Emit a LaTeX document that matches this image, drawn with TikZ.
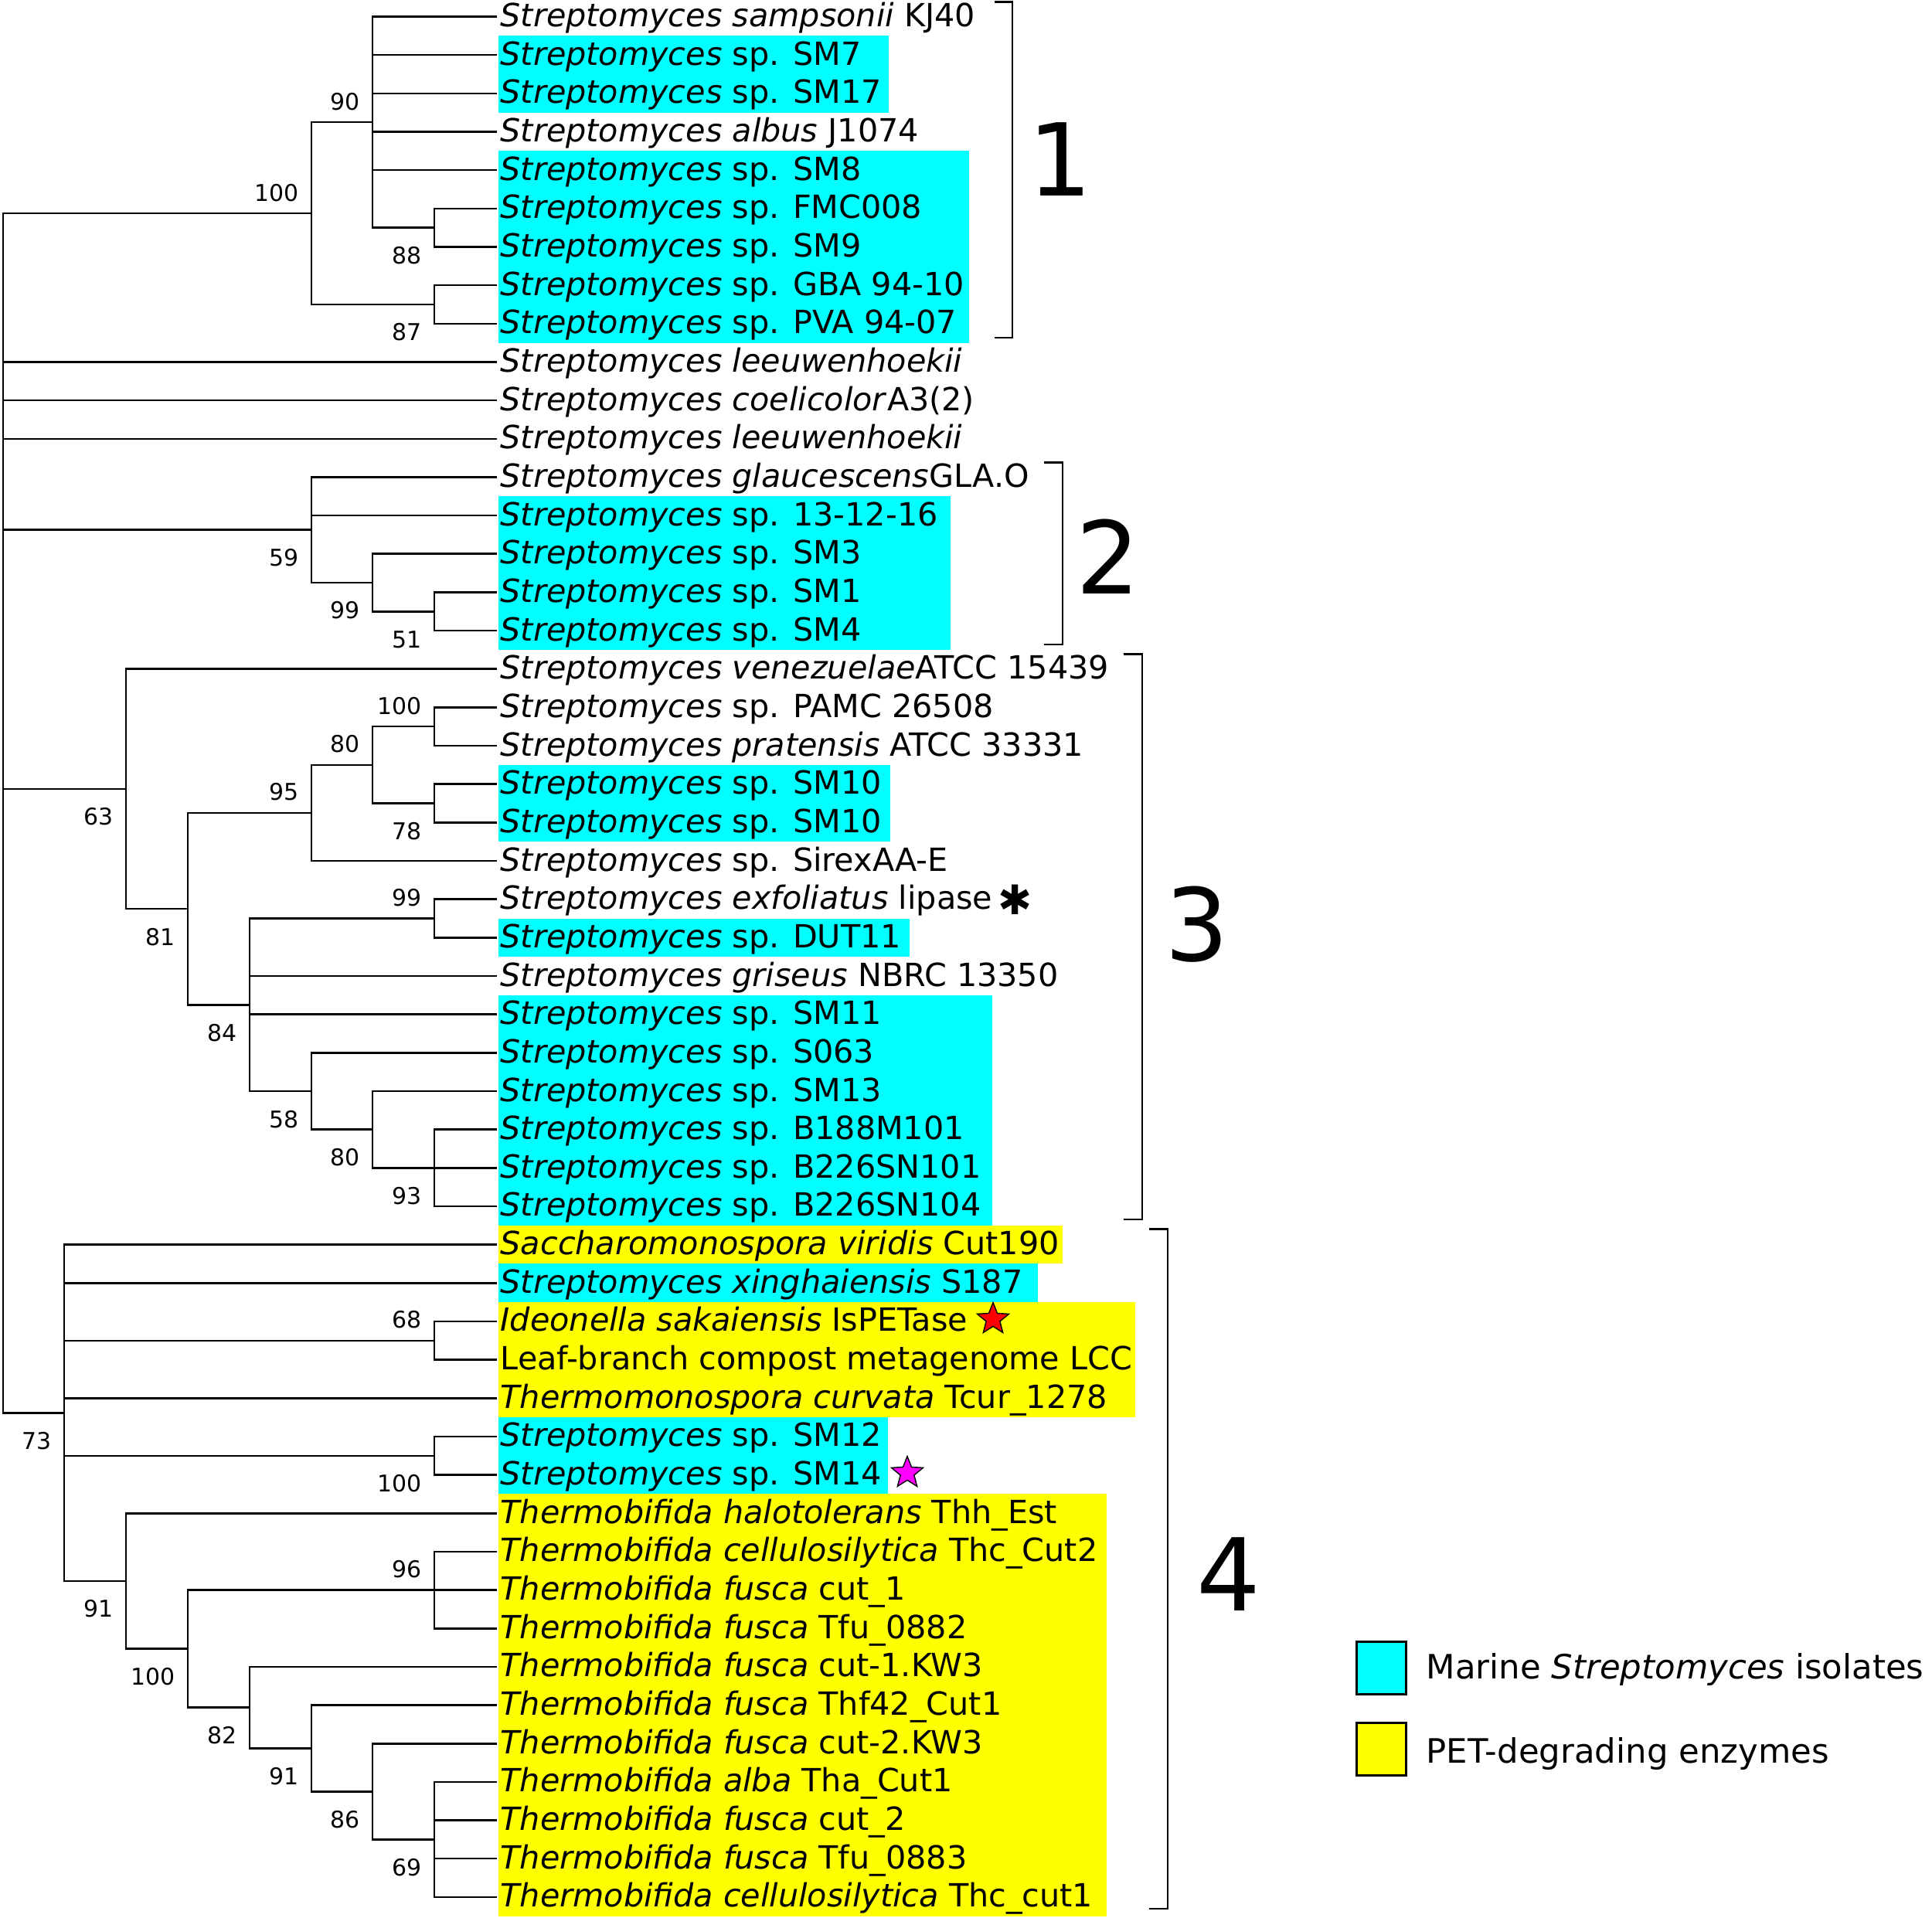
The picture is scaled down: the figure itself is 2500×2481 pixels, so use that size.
\documentclass[tikz,border=0pt]{standalone}
\usepackage{fontspec}
\setmainfont{DejaVu Sans}
\usetikzlibrary{calc,shapes.geometric}
\definecolor{hlcyan}{HTML}{00FFFF}
\definecolor{hlyellow}{HTML}{FFFF00}
\definecolor{starmag}{HTML}{FF00FF}
\newcommand{\Strep}{\textit{Streptomyces}}
\newcommand{\Tbf}{\textit{Thermobifida fusca}}
\begin{document}
\begin{tikzpicture}[x=0.01cm, y=-0.01cm,
  branch/.style={line width=0.72pt},
  bracketline/.style={line width=0.75pt},
  leaflabel/.style={anchor=base west, inner sep=0pt, font=\fontsize{11.75}{13}\selectfont},
  bsa/.style={anchor=base east, inner sep=0pt, font=\fontsize{8.5}{10}\selectfont},
  clusterno/.style={inner sep=0pt, font=\fontsize{37}{40}\selectfont},
  legbox/.style={draw=black, line width=0.85pt, minimum width=0.64cm, minimum height=0.68cm, inner sep=0pt},
  legtext/.style={anchor=base west, inner sep=0pt, font=\fontsize{12.35}{15}\selectfont},
  starmark/.style={star, star points=5, star point ratio=2.3, draw=black, line width=0.4pt, minimum size=0.43cm, inner sep=0pt}
]
\fill[white] (0,0) rectangle (2500,2481);
\useasboundingbox (0,0) rectangle (2500,2481);

% highlights
\fill[hlcyan] (645,46.4) rectangle (1150,145.6);
\fill[hlcyan] (645,195.3) rectangle (1254,443.6);
\fill[hlcyan] (645,642.3) rectangle (1230,840.9);
\fill[hlcyan] (645,989.9) rectangle (1152,1089.2);
\fill[hlcyan] (645,1188.5) rectangle (1177,1238.1);
\fill[hlcyan] (645,1287.9) rectangle (1284,1585.8);
\fill[hlyellow] (645,1585.8) rectangle (1375,1635.4);
\fill[hlcyan] (645,1635.4) rectangle (1343,1685.1);
\fill[hlyellow] (645,1685.1) rectangle (1469,1834.1);
\fill[hlcyan] (645,1834.1) rectangle (1149,1933.4);
\fill[hlyellow] (645,1933.4) rectangle (1432,2479.6);

% leaf tips
\foreach \i in {1,...,50} \coordinate (t\i) at (643,{21.5+(\i-1)*49.66});

% internal nodes
\coordinate (root) at (4,1052);
\coordinate (n100a) at (403,276.0);
\coordinate (n90) at (482,158.08);
\coordinate (n88) at (562,294.65);
\coordinate (n87) at (562,393.95);
\coordinate (n51) at (562,791.25);
\coordinate (n99a) at (482,753.98);
\coordinate (n59) at (403,685.69);
\coordinate (n100b) at (562,940.2);
\coordinate (n78) at (562,1039.55);
\coordinate (n80a) at (482,989.88);
\coordinate (n95) at (403,1051.94);
\coordinate (n99b) at (562,1188.5);
\coordinate (n93) at (562,1511.3);
\coordinate (n80b) at (482,1461.65);
\coordinate (n58) at (403,1411.98);
\coordinate (n84) at (323,1300.24);
\coordinate (n81) at (243,1176.09);
\coordinate (n63) at (163,1020.9);
\coordinate (n68) at (562,1734.75);
\coordinate (n100c) at (562,1883.75);
\coordinate (n96) at (562,2057.55);
\coordinate (n69) at (562,2380.35);
\coordinate (n86) at (482,2318.28);
\coordinate (n91b) at (403,2262.39);
\coordinate (n82) at (323,2209.65);
\coordinate (n100d) at (243,2133.6);
\coordinate (n91a) at (163,2045.9);
\coordinate (n73) at (83,1828.25);

% branches
\foreach \p/\c in {root/n100a, root/t10, root/t11, root/t12, root/n59, root/n63, root/n73,
  n100a/n90, n100a/n87, n90/t1, n90/t2, n90/t3, n90/t4, n90/t5, n90/n88,
  n88/t6, n88/t7, n87/t8, n87/t9,
  n59/t13, n59/t14, n59/n99a, n99a/t15, n99a/n51, n51/t16, n51/t17,
  n63/t18, n63/n81, n81/n95, n81/n84, n95/n80a, n95/t23, n80a/n100b, n80a/n78,
  n100b/t19, n100b/t20, n78/t21, n78/t22,
  n84/n99b, n84/t26, n84/t27, n84/n58, n99b/t24, n99b/t25,
  n58/t28, n58/n80b, n80b/t29, n80b/n93, n93/t30, n93/t31, n93/t32,
  n73/t33, n73/t34, n73/n68, n73/t37, n73/n100c, n73/n91a,
  n68/t35, n68/t36, n100c/t38, n100c/t39,
  n91a/t40, n91a/n100d, n100d/n96, n100d/n82, n96/t41, n96/t42, n96/t43,
  n82/t44, n82/n91b, n91b/t45, n91b/n86, n86/t46, n86/n69,
  n69/t47, n69/t48, n69/t49, n69/t50}
  \draw[branch] (\p) |- (\c);

% bootstrap values above the branch
\foreach \n/\v in {n100a/100, n90/90, n100b/100, n80a/80, n95/95, n99b/99, n68/68, n96/96}
  \node[bsa] (bs-\n) at ($(\n)+(-16,-16)$) {\v};
% bootstrap values below the branch
\foreach \n/\v in {n88/88, n87/87, n59/59, n99a/99, n51/51, n63/63, n78/78, n81/81,
  n84/84, n58/58, n80b/80, n93/93, n73/73, n100c/100, n91a/91, n100d/100,
  n82/82, n91b/91, n86/86, n69/69}
  \node[bsa] (bs-\n) at ($(\n)+(-16,47)$) {\v};

% leaf labels
\node[leaflabel] (l1) at ($(t1)+(4,13)$) {\textit{Streptomyces sampsonii} KJ40};
\node[leaflabel] (l2) at ($(t2)+(4,13)$) {\Strep{} sp. SM7};
\node[leaflabel] (l3) at ($(t3)+(4,13)$) {\Strep{} sp. SM17};
\node[leaflabel] (l4) at ($(t4)+(4,13)$) {\textit{Streptomyces albus} J1074};
\node[leaflabel] (l5) at ($(t5)+(4,13)$) {\Strep{} sp. SM8};
\node[leaflabel] (l6) at ($(t6)+(4,13)$) {\Strep{} sp. FMC008};
\node[leaflabel] (l7) at ($(t7)+(4,13)$) {\Strep{} sp. SM9};
\node[leaflabel] (l8) at ($(t8)+(4,13)$) {\Strep{} sp. GBA 94-10};
\node[leaflabel] (l9) at ($(t9)+(4,13)$) {\Strep{} sp. PVA 94-07};
\node[leaflabel] (l10) at ($(t10)+(4,13)$) {\textit{Streptomyces leeuwenhoekii}};
\node[leaflabel] (l11) at ($(t11)+(4,13)$) {\textit{Streptomyces coelicolor}A3(2)};
\node[leaflabel] (l12) at ($(t12)+(4,13)$) {\textit{Streptomyces leeuwenhoekii}};
\node[leaflabel] (l13) at ($(t13)+(4,13)$) {\textit{Streptomyces glaucescens}GLA.O};
\node[leaflabel] (l14) at ($(t14)+(4,13)$) {\Strep{} sp. 13-12-16};
\node[leaflabel] (l15) at ($(t15)+(4,13)$) {\Strep{} sp. SM3};
\node[leaflabel] (l16) at ($(t16)+(4,13)$) {\Strep{} sp. SM1};
\node[leaflabel] (l17) at ($(t17)+(4,13)$) {\Strep{} sp. SM4};
\node[leaflabel] (l18) at ($(t18)+(4,13)$) {\textit{Streptomyces venezuelae}ATCC 15439};
\node[leaflabel] (l19) at ($(t19)+(4,13)$) {\Strep{} sp. PAMC 26508};
\node[leaflabel] (l20) at ($(t20)+(4,13)$) {\textit{Streptomyces pratensis} ATCC 33331};
\node[leaflabel] (l21) at ($(t21)+(4,13)$) {\Strep{} sp. SM10};
\node[leaflabel] (l22) at ($(t22)+(4,13)$) {\Strep{} sp. SM10};
\node[leaflabel] (l23) at ($(t23)+(4,13)$) {\Strep{} sp. SirexAA-E};
\node[leaflabel] (l24) at ($(t24)+(4,13)$) {\textit{Streptomyces exfoliatus} lipase};
\node[leaflabel] (l25) at ($(t25)+(4,13)$) {\Strep{} sp. DUT11};
\node[leaflabel] (l26) at ($(t26)+(4,13)$) {\textit{Streptomyces griseus} NBRC 13350};
\node[leaflabel] (l27) at ($(t27)+(4,13)$) {\Strep{} sp. SM11};
\node[leaflabel] (l28) at ($(t28)+(4,13)$) {\Strep{} sp. S063};
\node[leaflabel] (l29) at ($(t29)+(4,13)$) {\Strep{} sp. SM13};
\node[leaflabel] (l30) at ($(t30)+(4,13)$) {\Strep{} sp. B188M101};
\node[leaflabel] (l31) at ($(t31)+(4,13)$) {\Strep{} sp. B226SN101};
\node[leaflabel] (l32) at ($(t32)+(4,13)$) {\Strep{} sp. B226SN104};
\node[leaflabel] (l33) at ($(t33)+(4,13)$) {\textit{Saccharomonospora viridis} Cut190};
\node[leaflabel] (l34) at ($(t34)+(4,13)$) {\textit{Streptomyces xinghaiensis} S187};
\node[leaflabel] (l35) at ($(t35)+(4,13)$) {\textit{Ideonella sakaiensis} IsPETase};
\node[leaflabel] (l36) at ($(t36)+(4,13)$) {Leaf-branch compost metagenome LCC};
\node[leaflabel] (l37) at ($(t37)+(4,13)$) {\textit{Thermomonospora curvata} Tcur\_1278};
\node[leaflabel] (l38) at ($(t38)+(4,13)$) {\Strep{} sp. SM12};
\node[leaflabel] (l39) at ($(t39)+(4,13)$) {\Strep{} sp. SM14};
\node[leaflabel] (l40) at ($(t40)+(4,13)$) {\textit{Thermobifida halotolerans} Thh\_Est};
\node[leaflabel] (l41) at ($(t41)+(4,13)$) {\textit{Thermobifida cellulosilytica} Thc\_Cut2};
\node[leaflabel] (l42) at ($(t42)+(4,13)$) {\Tbf{} cut\_1};
\node[leaflabel] (l43) at ($(t43)+(4,13)$) {\Tbf{} Tfu\_0882};
\node[leaflabel] (l44) at ($(t44)+(4,13)$) {\Tbf{} cut-1.KW3};
\node[leaflabel] (l45) at ($(t45)+(4,13)$) {\Tbf{} Thf42\_Cut1};
\node[leaflabel] (l46) at ($(t46)+(4,13)$) {\Tbf{} cut-2.KW3};
\node[leaflabel] (l47) at ($(t47)+(4,13)$) {\textit{Thermobifida alba} Tha\_Cut1};
\node[leaflabel] (l48) at ($(t48)+(4,13)$) {\Tbf{} cut\_2};
\node[leaflabel] (l49) at ($(t49)+(4,13)$) {\Tbf{} Tfu\_0883};
\node[leaflabel] (l50) at ($(t50)+(4,13)$) {\textit{Thermobifida cellulosilytica} Thc\_cut1};

% markers
\node[inner sep=0pt, font=\fontsize{15}{15}\selectfont] (ast) at (1314,1164) {✱};
\node[starmark, fill=red] (star1) at (1285,1707) {};
\node[starmark, fill=starmag] (star2) at (1174,1906) {};

% cluster brackets
\draw[bracketline] (1287,2.5) -- (1310,2.5) -- (1310,437) -- (1287,437);
\draw[bracketline] (1351,598.4) -- (1375,598.4) -- (1375,834) -- (1351,834);
\draw[bracketline] (1454,846.7) -- (1478,846.7) -- (1478,1578) -- (1454,1578);
\draw[bracketline] (1487,1590.6) -- (1511,1590.6) -- (1511,2470) -- (1487,2470);
\node[clusterno] (c1) at (1372,206) {1};
\node[clusterno] (c2) at (1434,720) {2};
\node[clusterno] (c3) at (1549,1196) {3};
\node[clusterno] (c4) at (1590,2037) {4};

% legend
\node[legbox, fill=hlcyan] (lgc) at (1787,2158) {};
\node[legtext] (lgct) at (1845,2172) {Marine \textit{Streptomyces} isolates};
\node[legbox, fill=hlyellow] (lgy) at (1787,2263) {};
\node[legtext] (lgyt) at (1845,2281) {PET-degrading enzymes};
\end{tikzpicture}
\end{document}
